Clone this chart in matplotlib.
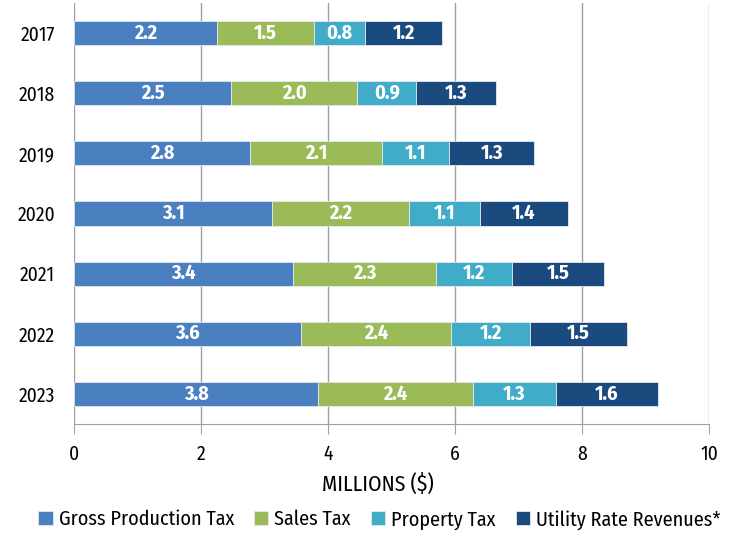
import matplotlib
matplotlib.use("Agg")
import matplotlib.pyplot as plt
import numpy as np

plt.rcParams['font.family'] = ['Fira Sans Condensed', 'PT Sans Narrow',
                               'Roboto Condensed', 'DejaVu Sans']

# data (millions $)
years = ['2017', '2018', '2019', '2020', '2021', '2022', '2023']
gross_production = [2.24, 2.46, 2.77, 3.11, 3.44, 3.57, 3.84]
sales_tax        = [1.54, 2.00, 2.08, 2.17, 2.26, 2.37, 2.44]
property_tax     = [0.80, 0.93, 1.06, 1.11, 1.19, 1.24, 1.31]
utility_rate     = [1.21, 1.26, 1.33, 1.39, 1.46, 1.53, 1.60]

series = [
    ('Gross Production Tax', gross_production, '#4a7fc0'),
    ('Sales Tax', sales_tax, '#9bbb59'),
    ('Property Tax', property_tax, '#41acc7'),
    ('Utility Rate Revenues*', utility_rate, '#1a4a7e'),
]

fig = plt.figure(figsize=(7.44, 5.37), dpi=100)
ax = fig.add_axes([0.100, 0.2104, 0.853, 0.784])

y = np.arange(len(years))
left = np.zeros(len(years))
for name, vals, col in series:
    vals = np.array(vals)
    ax.barh(y, vals, left=left, height=0.4, color=col, label=name,
            edgecolor='#e4e9ef', linewidth=0.6, zorder=3)
    for yi, l, v in zip(y, left, vals):
        ax.text(l + v / 2, yi, f'{v:.1f}', ha='center', va='center',
                color='white', fontsize=14.5, fontweight='bold', zorder=4)
    left = left + vals

ax.set_xlim(0, 10)
ax.set_ylim(len(years) - 0.5, -0.5)
ax.set_yticks(y)
ax.set_yticklabels(years, fontsize=14)
ax.set_xticks([0, 2, 4, 6, 8, 10])
ax.tick_params(axis='y', length=0, pad=14)
ax.tick_params(axis='x', length=7, color='#a0a0a0', labelsize=14, pad=8)
ax.xaxis.grid(True, color='#a0a0a0', linewidth=1, zorder=0)
for s in ['top', 'right', 'left']:
    ax.spines[s].set_visible(False)
ax.spines['bottom'].set_color('#a0a0a0')
ax.set_xlabel('MILLIONS ($)', fontsize=15.5, labelpad=6, x=0.478)

fig.legend(loc='lower center', ncol=4, frameon=False, fontsize=14.5,
           handlelength=0.7, handleheight=0.7, handletextpad=0.3,
           columnspacing=1.0, bbox_to_anchor=(0.51, -0.02))

fig.savefig('out.png', dpi=100)
